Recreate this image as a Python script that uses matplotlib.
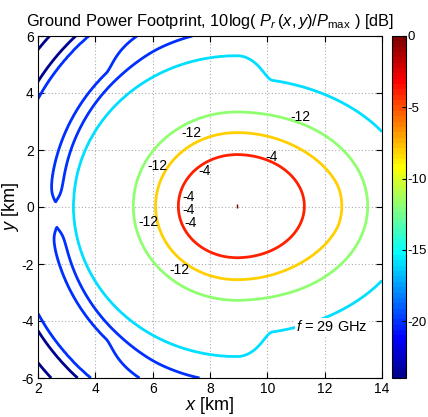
import numpy as np
import matplotlib
matplotlib.use('Agg')
import matplotlib.pyplot as plt
from matplotlib.colors import Normalize, ListedColormap
from matplotlib.cm import ScalarMappable

plt.rcParams['font.family'] = ['Liberation Sans', 'DejaVu Sans']
plt.rcParams['mathtext.fontset'] = 'custom'
plt.rcParams['mathtext.rm'] = 'Liberation Sans'
plt.rcParams['mathtext.it'] = 'Liberation Sans:italic'
plt.rcParams['mathtext.bf'] = 'Liberation Sans:bold'
plt.rcParams['axes.unicode_minus'] = False

# beam peak on the ground [km]
peak_x, peak_y = 8.94, 0.03

# contour levels [dB]
levels = [-24, -20, -16, -12, -8, -4]

# x-stretch of the footprint (near side / far side) vs distance from the peak
near_rc = [0.0, 2.05, 2.85, 5.7, 6.1]
near_sx = [1.13, 1.13, 1.10, 1.08, 1.00]
far_rc = [0.0, 2.4, 3.6, 4.6]
far_sx = [1.30, 1.30, 1.42, 1.38]

# radial profiles [km] -> [dB]
lobe_r = [0.0, 0.9, 1.81, 2.58, 3.30]
lobe_db = [0.0, -1.0, -4.0, -8.0, -12.0]
left_r = [5.28, 6.12, 6.33, 6.52, 7.2, 7.9, 8.2, 8.5, 8.85, 9.5, 10.5]
left_db = [-16, -20, -21.5, -20, -18.6, -20, -24, -26, -24, -21, -20]
top_r = [5.28, 6.17, 6.55, 6.94, 7.4, 7.9, 8.2, 8.5, 8.85, 9.5, 10.5]
top_db = [-16, -20, -22.5, -20, -19.2, -20, -24, -26, -24, -21, -20]
far_r = [4.5, 5.5, 7.0, 9.0]
far_db = [-16, -17.2, -18.3, -19.0]

# shallow spot in the first null, left of the peak
gap_psi, gap_width, gap_r, gap_dr, gap_db = -2.7, 5.5, 6.33, 0.3, 2.5

# contour label anchors (on the -12 and -4 contours)
lab12 = [(10.69, 3.16), (6.95, 2.6), (5.8, 1.44), (5.38, -0.53), (6.6, -2.2)]
lab4 = [(9.81, 1.75), (7.48, 1.26), (6.92, 0.35), (6.88, -0.11), (6.95, -0.56)]


def smooth(v):
    v = np.clip(v, 0, 1)
    return v * v * (3 - 2 * v)


x = np.linspace(2, 14, 601)
y = np.linspace(-6, 6, 601)
X, Y = np.meshgrid(x, y)
dx = X - peak_x
dy = Y - peak_y
rc = np.hypot(dx, dy)
psi = np.degrees(np.arctan2(dy, -dx))
apsi = np.abs(psi)

sx = np.where(dx < 0, np.interp(rc, near_rc, near_sx), np.interp(rc, far_rc, far_sx))
rs = np.hypot(dx / sx, dy)

n_left = np.interp(rs, lobe_r + left_r, lobe_db + left_db)
n_top = np.interp(rs, lobe_r + top_r, lobe_db + top_db)
a = smooth((apsi - 45) / 20)
near = (1 - a) * n_left + a * n_top
far = np.interp(rs, lobe_r + far_r, lobe_db + far_db)
w = smooth((106 - apsi) / 16)
P = w * near + (1 - w) * far
P = P + gap_db * np.exp(-((psi - gap_psi) / gap_width) ** 2) * np.exp(-((rc - gap_r) / gap_dr) ** 2)

# MATLAB-style jet(64)
n = 16
u = np.concatenate([np.arange(1, n + 1) / n, np.ones(n - 1), np.arange(n, 0, -1) / n])
g = n // 2 + np.arange(len(u))
jet = np.zeros((64, 3))
for ch, idx in enumerate([g + n, g, g - n]):
    ok = (idx >= 0) & (idx < 64)
    jet[idx[ok], ch] = u[ok]
cmap = ListedColormap(jet)
norm = Normalize(-24, 0)

fig = plt.figure(figsize=(4.28, 4.17), dpi=100)
ax = fig.add_axes([38 / 428, 39 / 417, 344 / 428, 342 / 417])
cax = fig.add_axes([392 / 428, 39 / 417, 14 / 428, 342 / 417])

ax.grid(True, linestyle=(0, (1, 2)), color='#aaaaaa', linewidth=0.8)
ax.set_axisbelow(True)
cs = ax.contour(X, Y, P, levels=levels, cmap=cmap, norm=norm, linewidths=2)
ax.plot([peak_x], [peak_y], marker='|', ms=3.5, mew=1, color=cmap(norm(0)))

anchors = lab12 + lab4
texts = ax.clabel(cs, inline=False, fmt='%d', fontsize=10, colors='k', manual=anchors)
for tx, (mx, my) in zip(texts, anchors):
    tx.set_rotation(0)
    tx.set_ha('left')
    tx.set_va('center')
    px, py = tx.get_position()
    tx.set_position((px + 0.12, my))

ax.text(11.0, -4.21, r'$f$ = 29 GHz', fontsize=10.5, ha='left', va='center',
        bbox=dict(facecolor='white', edgecolor='none', pad=1))

ax.set_xlim(2, 14)
ax.set_ylim(-6, 6)
ax.set_xticks(range(2, 15, 2))
ax.set_yticks(range(-6, 7, 2))
ax.tick_params(direction='in', top=True, right=True, labelsize=10, length=4, pad=3)
ax.set_xlabel(r'$x$ [km]', fontsize=13, labelpad=-1)
ax.set_ylabel(r'$y$ [km]', fontsize=13, labelpad=0)
ax.set_title(r'Ground Power Footprint, 10log( $P_r\,(x,y)/P_{\mathrm{max}}$ ) [dB]',
             fontsize=11.8, pad=7)

cb = fig.colorbar(ScalarMappable(norm=norm, cmap=cmap), cax=cax, ticks=[-20, -15, -10, -5, 0])
cb.ax.tick_params(direction='in', labelsize=9.5, length=3, pad=1)
cb.outline.set_linewidth(0.8)

fig.savefig('out.png', dpi=100)
